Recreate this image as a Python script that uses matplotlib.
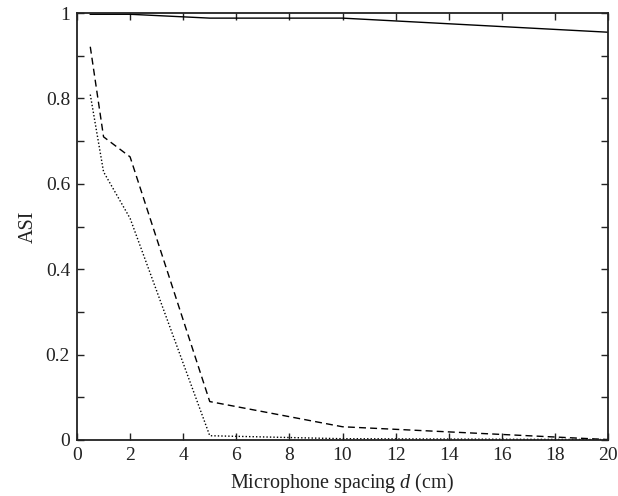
import matplotlib
matplotlib.use("Agg")
import matplotlib.pyplot as plt
import numpy as np

spacing = [0.5, 1, 2, 5, 10, 20]
asi_solid = [0.997, 0.997, 0.997, 0.988, 0.988, 0.955]
asi_dashed = [0.921, 0.710, 0.663, 0.090, 0.031, 0.001]
asi_dotted = [0.809, 0.628, 0.519, 0.010, 0.003, 0.001]

xticks = np.arange(0, 21, 2)
yticks = np.arange(0, 1.01, 0.1)
ylabels = ["0", "", "0.2", "", "0.4", "", "0.6", "", "0.8", "", "1"]

plt.rcParams['font.family'] = ['Liberation Serif', 'DejaVu Serif']
plt.rcParams['mathtext.fontset'] = 'custom'
plt.rcParams['mathtext.rm'] = 'Liberation Serif'
plt.rcParams['mathtext.it'] = 'Liberation Serif:italic'

fig = plt.figure(figsize=(6.18, 4.96), dpi=100)
ax = fig.add_axes([77/618, 1-440/496, (608-77)/618, (440-13)/496])

ax.plot(spacing, asi_solid, color='black', lw=1.0, ls='-')
ax.plot(spacing, asi_dashed, color='black', lw=1.0, ls=(0, (5, 3)))
ax.plot(spacing, asi_dotted, color='black', lw=1.0, ls=(0, (1, 1.5)))

ax.set_xlim(0, 20)
ax.set_ylim(0, 1)
ax.set_xticks(xticks)
ax.set_xticklabels([str(int(v)) for v in xticks])
ax.set_yticks(yticks)
ax.set_yticklabels(ylabels)
ax.tick_params(direction='in', top=True, right=True, length=5, width=1.0,
               labelsize=14, colors='#222222', pad=5)
for s in ax.spines.values():
    s.set_linewidth(1.3)
    s.set_color('#222222')

ax.set_xlabel(r"Microphone spacing $\mathit{d}$ (cm)", fontsize=14.5, labelpad=5, color='#222222')
ax.set_ylabel("ASI", fontsize=14.5, labelpad=6, color='#222222')

fig.savefig("out.png", dpi=100)
